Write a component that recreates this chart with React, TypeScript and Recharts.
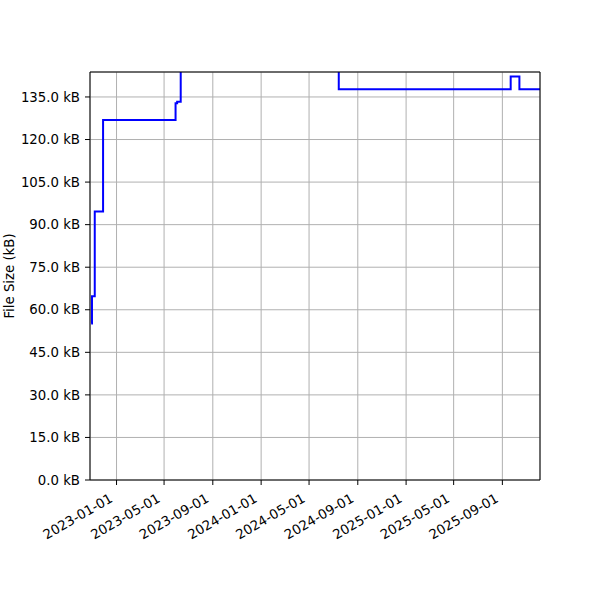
import React from 'react';
import { LineChart, Line, XAxis, YAxis, CartesianGrid, ReferenceLine } from 'recharts';

const dates = [
  '2022-10-29', '2022-10-31', '2022-11-07', '2022-11-28', '2023-05-30',
  '2023-06-03', '2023-06-12', '2024-07-15', '2025-09-22', '2025-10-14', '2025-12-05',
];
const sizes = [55.2, 64.8, 94.6, 126.9, 132.8, 133.3, 155, 137.7, 142.2, 137.7, 137.7];
const xTickDates = [
  '2023-01-01', '2023-05-01', '2023-09-01', '2024-01-01', '2024-05-01',
  '2024-09-01', '2025-01-01', '2025-05-01', '2025-09-01',
];
const yTicks = [0, 15, 30, 45, 60, 75, 90, 105, 120, 135];
const xDomainDates = ['2022-10-26', '2025-12-05'];
const yMax = 143.8;

const toTs = (s: string) => Date.parse(s + 'T00:00:00Z');
const data = dates.map((d, i) => ({ t: toTs(d), v: sizes[i] }));
const xTicks = xTickDates.map(toTs);
const xDomain = xDomainDates.map(toTs);
const fmtDate = (t: number) => new Date(t).toISOString().slice(0, 10);

const FONT = 'DejaVu Sans';
const FS = 13.3;

const XTick = (props: any) => {
  const { x, y, payload } = props;
  return (
    <g transform={`translate(${x - 3},${y + 14}) rotate(-30)`}>
      <text x={0} y={0} textAnchor="end" fontFamily={FONT} fontSize={FS} fill="#000">
        {fmtDate(payload.value)}
      </text>
    </g>
  );
};

const YLabel = (props: any) => {
  const { viewBox } = props;
  const cx = viewBox.x + 9;
  const cy = viewBox.y + viewBox.height / 2;
  return (
    <text
      x={cx}
      y={cy}
      transform={`rotate(-90, ${cx}, ${cy})`}
      textAnchor="middle"
      dominantBaseline="central"
      fontFamily={FONT}
      fontSize={FS}
      fill="#000"
    >
      File Size (kB)
    </text>
  );
};

export default function App() {
  return (
    <div style={{ position: 'absolute', left: 0, top: 0, width: 600, height: 600, background: '#fff' }}>
      <LineChart width={600} height={600} data={data} margin={{ top: 72, right: 60, left: 0, bottom: 0 }}>
        <CartesianGrid stroke="#b0b0b0" strokeWidth={1} />
        <XAxis
          dataKey="t"
          type="number"
          scale="time"
          domain={xDomain}
          ticks={xTicks}
          allowDataOverflow
          height={120}
          tick={<XTick />}
          tickSize={5}
          tickMargin={2}
          axisLine={{ stroke: '#000', strokeWidth: 1 }}
          tickLine={{ stroke: '#000', strokeWidth: 1 }}
          interval={0}
        />
        <YAxis
          type="number"
          domain={[0, yMax]}
          ticks={yTicks}
          allowDataOverflow
          width={90}
          interval={0}
          tickFormatter={(v: number) => `${v.toFixed(1)} kB`}
          tick={{ fontFamily: FONT, fontSize: FS, fill: '#000' }}
          tickSize={5}
          tickMargin={5}
          axisLine={{ stroke: '#000', strokeWidth: 1 }}
          tickLine={{ stroke: '#000', strokeWidth: 1 }}
          label={<YLabel />}
        />
        <Line
          type="stepAfter"
          dataKey="v"
          stroke="#0000ff"
          strokeWidth={2}
          dot={false}
          isAnimationActive={false}
        />
        <ReferenceLine y={yMax} stroke="#000" strokeWidth={1} ifOverflow="visible" />
        <ReferenceLine x={xDomain[1]} stroke="#000" strokeWidth={1} ifOverflow="visible" />
      </LineChart>
    </div>
  );
}
